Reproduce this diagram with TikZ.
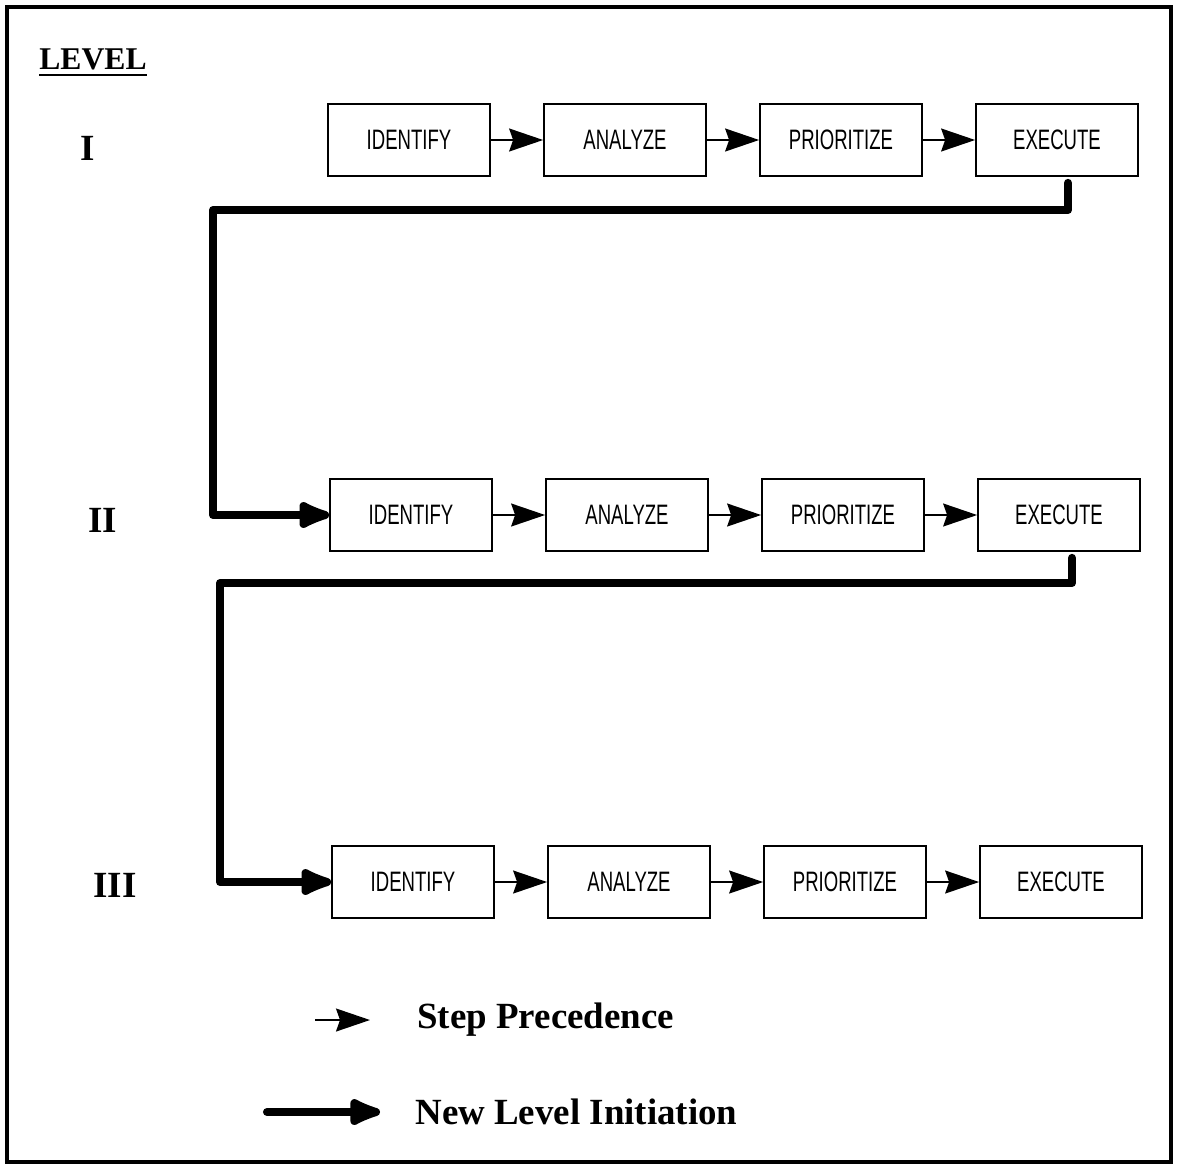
\documentclass[tikz,border=0pt]{standalone}
\usepackage{fontspec}
\setmainfont{Liberation Serif}
\newfontfamily\plotfont[FakeStretch=0.66]{Liberation Sans}
\usepackage{tikz}
\usetikzlibrary{arrows.meta}
\usetikzlibrary{positioning}

\begin{document}
\begin{tikzpicture}[>={Stealth[length=3.4mm,width=2.3mm,inset=0.4mm]},node distance=2.16cm,
            stepbox/.style={draw,line width=0.5pt,minimum width=1.62cm,minimum height=0.72cm,
                inner sep=0pt,font=\plotfont\fontsize{8}{9}\selectfont},
            precede/.style={->,line width=0.45pt},
            newlevel/.style={-{Latex[length=4.2mm,width=3.2mm,round]},line width=2.3pt,
                line cap=round,line join=round},
            lvl/.style={font=\bfseries\fontsize{10.5}{12}\selectfont}]
            \useasboundingbox (0,0) rectangle (11.79,-11.66);
            % Outer frame
            \draw[line width=1pt] (0.07,-0.07) rectangle (11.71,-11.62);

            % Level labels
            \node[font=\bfseries\fontsize{9}{11}\selectfont] (lvlhead) at (0.93,-0.63) {\underline{LEVEL}};
            \node[lvl] (lvlI)   at (0.88,-1.48) {I};
            \node[lvl] (lvlII)  at (1.03,-5.20) {II};
            \node[lvl] (lvlIII) at (1.15,-8.85) {III};

            % Define the steps of each level
            \node[stepbox] (I1) at (4.09,-1.40) {IDENTIFY};
            \node[stepbox] (A1) [right of=I1] {ANALYZE};
            \node[stepbox] (P1) [right of=A1] {PRIORITIZE};
            \node[stepbox] (E1) [right of=P1] {EXECUTE};

            \node[stepbox] (I2) at (4.11,-5.15) {IDENTIFY};
            \node[stepbox] (A2) [right of=I2] {ANALYZE};
            \node[stepbox] (P2) [right of=A2] {PRIORITIZE};
            \node[stepbox] (E2) [right of=P2] {EXECUTE};

            \node[stepbox] (I3) at (4.13,-8.82) {IDENTIFY};
            \node[stepbox] (A3) [right of=I3] {ANALYZE};
            \node[stepbox] (P3) [right of=A3] {PRIORITIZE};
            \node[stepbox] (E3) [right of=P3] {EXECUTE};

            % Connect the steps with arrows
            \foreach \row in {1,2,3} {
                \draw[precede] (I\row) -- (A\row);
                \draw[precede] (A\row) -- (P\row);
                \draw[precede] (P\row) -- (E\row);
            }

            % Connect the levels
            \coordinate (dropI)  at (10.68,-2.10);
            \coordinate (turnI)  at (2.13,-2.10);
            \coordinate (dropII) at (10.72,-5.83);
            \coordinate (turnII) at (2.20,-5.83);
            \draw[newlevel] ([yshift=-0.06cm]dropI |- E1.south) -- (dropI) -- (turnI) |- (I2.west);
            \draw[newlevel] ([yshift=-0.06cm]dropII |- E2.south) -- (dropII) -- (turnII) |- (I3.west);

            % Legend
            \coordinate (stepA) at (3.15,-10.20);
            \coordinate (stepB) at (3.70,-10.20);
            \coordinate (levA)  at (2.67,-11.12);
            \coordinate (levB)  at (3.80,-11.12);
            \draw[precede] (stepA) -- (stepB);
            \draw[newlevel] (levA) -- (levB);
            \node[lvl,anchor=west] (stepkey) at (4.05,-10.20) {Step Precedence};
            \node[lvl,anchor=west] (levkey)  at (4.03,-11.12) {New Level Initiation};
\end{tikzpicture}
\end{document}
